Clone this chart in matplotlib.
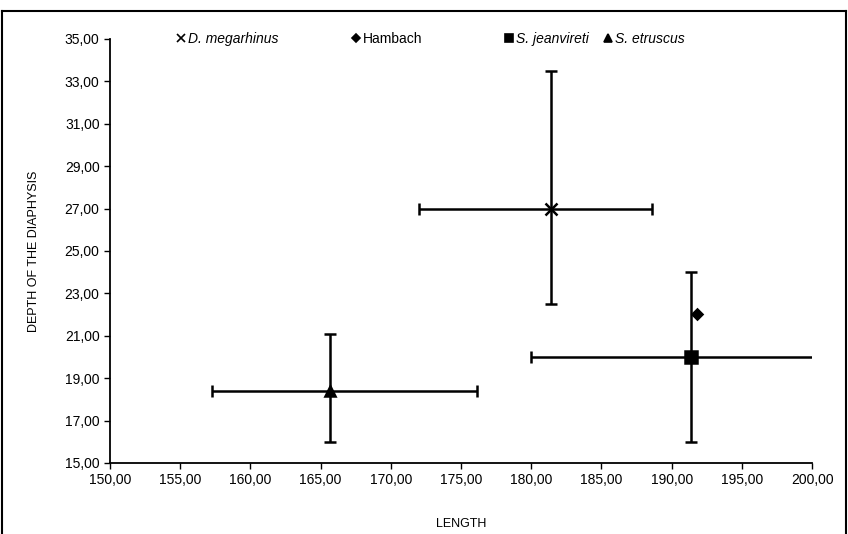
import matplotlib.pyplot as plt
from matplotlib.legend import Legend
from matplotlib.lines import Line2D
from matplotlib.ticker import FuncFormatter, MultipleLocator

plt.rcParams['font.family'] = ['Liberation Sans', 'DejaVu Sans']

# data
species = ['D. megarhinus', 'Hambach', 'S. jeanvireti', 'S. etruscus']
markers = ['x', 'D', 's', '^']
length = [181.4, 191.8, 191.4, 165.7]
depth = [27.0, 22.05, 20.0, 18.4]
length_low = [172.0, None, 180.0, 157.3]
length_high = [188.6, None, 203.0, 176.1]
depth_low = [22.5, None, 16.0, 16.0]
depth_high = [33.5, None, 24.0, 21.1]
y_ticks = [15, 17, 19, 21, 23, 25, 27, 29, 31, 33, 35]

fig = plt.figure(figsize=(8.48, 5.34), dpi=100)
ax = fig.add_axes([0.1297, 0.133, 0.828, 0.794])

for i, name in enumerate(species):
    if length_low[i] is not None:
        ax.errorbar(length[i], depth[i],
                    xerr=[[length[i] - length_low[i]], [length_high[i] - length[i]]],
                    yerr=[[depth[i] - depth_low[i]], [depth_high[i] - depth[i]]],
                    fmt='none', ecolor='black', elinewidth=1.8, capsize=4, capthick=1.8,
                    zorder=2)
    size = {'x': 9, 'D': 5, 's': 8, '^': 7}[markers[i]]
    ax.plot(length[i], depth[i], linestyle='none', marker=markers[i], color='black',
            markersize=size, markeredgewidth=1.8, zorder=3)

ax.set_xlim(150, 200)
ax.set_ylim(15, 35)
ax.xaxis.set_major_locator(MultipleLocator(5))
ax.set_yticks(y_ticks)
fmt = FuncFormatter(lambda v, p: f'{v:.2f}'.replace('.', ','))
ax.xaxis.set_major_formatter(fmt)
ax.yaxis.set_major_formatter(fmt)
ax.tick_params(direction='out', length=4, width=1, labelsize=10, colors='black')

for s in ['top', 'right']:
    ax.spines[s].set_visible(False)
for s in ['left', 'bottom']:
    ax.spines[s].set_linewidth(1.3)

ax.set_xlabel('LENGTH', fontsize=9, labelpad=22)
ax.set_ylabel('DEPTH OF THE DIAPHYSIS', fontsize=9, labelpad=18)

# legend entries placed one by one along the top
legend_x = [0.093, 0.342, 0.560, 0.701]
for m, name, lx in zip(markers, species, legend_x):
    h = Line2D([], [], linestyle='none', marker=m, color='black',
               markersize={'x': 6, 'D': 4, 's': 6, '^': 6}[m], markeredgewidth=1.2)
    leg = Legend(ax, [h], [name], loc='center left', bbox_to_anchor=(lx, 1.0),
                 frameon=False, fontsize=10, handletextpad=0.1, handlelength=0.8,
                 borderaxespad=0, borderpad=0)
    if name != 'Hambach':
        leg.get_texts()[0].set_fontstyle('italic')
    ax.add_artist(leg)

# outer frame of the figure
fig.add_artist(Line2D([0.002, 0.998], [0.98, 0.98], color='black', lw=1.5))
fig.add_artist(Line2D([0.002, 0.002], [0.0, 0.98], color='black', lw=1.5))
fig.add_artist(Line2D([0.998, 0.998], [0.0, 0.98], color='black', lw=1.5))

fig.savefig('out.png', dpi=100)
